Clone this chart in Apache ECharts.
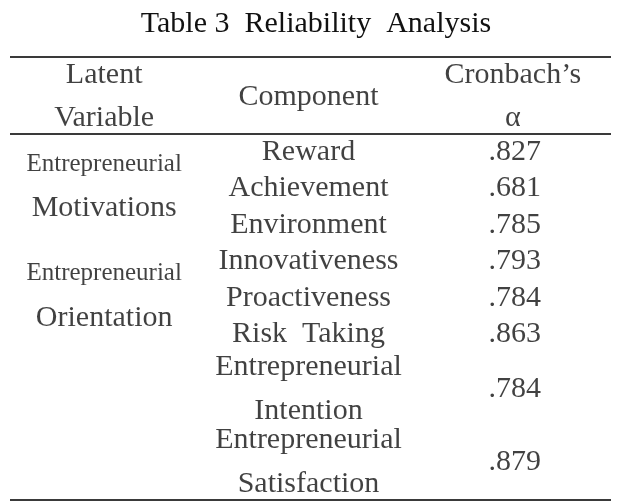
<!DOCTYPE html>
<html>
<head>
<meta charset="utf-8">
<script src="https://cdn.jsdelivr.net/npm/echarts@6/dist/echarts.min.js"></script>
<style>html,body{margin:0;padding:0;background:#fff}#c{width:632px;height:503px}</style>
</head>
<body>
<div id="c"></div>
<script>
const titleText = 'Table 3  Reliability  Analysis';
const columns = ['Latent Variable', 'Component', 'Cronbach’s α'];
const headerLabels = ['Latent\nVariable', 'Component', 'Cronbach’s\nα'];
const components = ['Reward', 'Achievement', 'Environment', 'Innovativeness', 'Proactiveness', 'Risk  Taking', 'Entrepreneurial\nIntention', 'Entrepreneurial\nSatisfaction'];
const alphaValues = ['.827', '.681', '.785', '.793', '.784', '.863', '.784', '.879'];
const componentLineCounts = [1, 1, 1, 1, 1, 1, 2, 2];
const latentNames = ['Entrepreneurial', 'Entrepreneurial'];
const latentSubNames = ['Motivations', 'Orientation'];
const latentFirstRow = [0, 3];
const latentLastRow = [2, 5];
const headerLineCount = 2;

// text-line layout: row centers in "line" units
const rowCenters = [];
let cursor = headerLineCount;
componentLineCounts.forEach(n => { rowCenters.push(cursor + (n - 1) / 2); cursor += n; });
const totalLines = cursor;
const headerCenter = (headerLineCount - 1) / 2;
const ruleTop = -0.6, ruleHeader = headerLineCount - 0.5, ruleBottom = totalLines - 0.45;

const FONT = 'Liberation Serif';
const baseLabel = { show: true, position: 'inside', color: '#111', fontFamily: FONT, fontSize: 30, lineHeight: 44 };

const headerData = headerLabels.map((t, i) => ({ value: [columns[i], headerCenter], name: t }));
const compData = components.map((t, i) => ({ value: [columns[1], rowCenters[i]], name: t }));
const alphaData = alphaValues.map((t, i) => ({ value: [columns[2], rowCenters[i]], name: t }));
const latentData = latentNames.map((t, i) => ({
  value: [columns[0], (rowCenters[latentFirstRow[i]] + rowCenters[latentLastRow[i]]) / 2],
  name: '{c|' + t + '}\n{n|' + latentSubNames[i] + '}'
}));

function textSeries(data, labelExtra) {
  return {
    type: 'scatter', data: data, symbolSize: 1, silent: true,
    itemStyle: { color: 'rgba(0,0,0,0)' },
    label: Object.assign({}, baseLabel, { formatter: '{b}' }, labelExtra)
  };
}

const chart = echarts.init(document.getElementById('c'), null, { renderer: 'canvas' });
chart.setOption({
  animation: false,
  backgroundColor: '#fff',
  title: {
    text: titleText, left: 'center', top: 4,
    textStyle: { fontFamily: FONT, fontSize: 30, fontWeight: 'normal', color: '#111' }
  },
  grid: { left: 10, right: 21, top: 57, bottom: 3 },
  xAxis: { type: 'category', data: columns, show: false, boundaryGap: true },
  yAxis: { type: 'value', inverse: true, min: ruleTop, max: ruleBottom, show: false },
  series: [
    Object.assign(textSeries(headerData.slice(0, 1), { offset: [-6, 0], lineHeight: 43 }), {
      markLine: {
        silent: true, symbol: 'none', label: { show: false },
        lineStyle: { color: '#3a3a3a', width: 2, type: 'solid' },
        data: [{ yAxis: ruleTop }, { yAxis: ruleHeader }, { yAxis: ruleBottom }]
      }
    }),
    textSeries(headerData.slice(1, 2), { offset: [-2, 0] }),
    textSeries(headerData.slice(2, 3), { offset: [2, 0], lineHeight: 43 }),
    textSeries(compData, { offset: [-2, 0] }),
    textSeries(alphaData, { offset: [4, 0] }),
    textSeries(latentData, {
      offset: [-6, -2],
      rich: {
        c: { fontFamily: FONT, fontSize: 25, lineHeight: 44, color: '#111' },
        n: { fontFamily: FONT, fontSize: 30, lineHeight: 44, color: '#111' }
      }
    })
  ]
});
</script>
</body>
</html>
